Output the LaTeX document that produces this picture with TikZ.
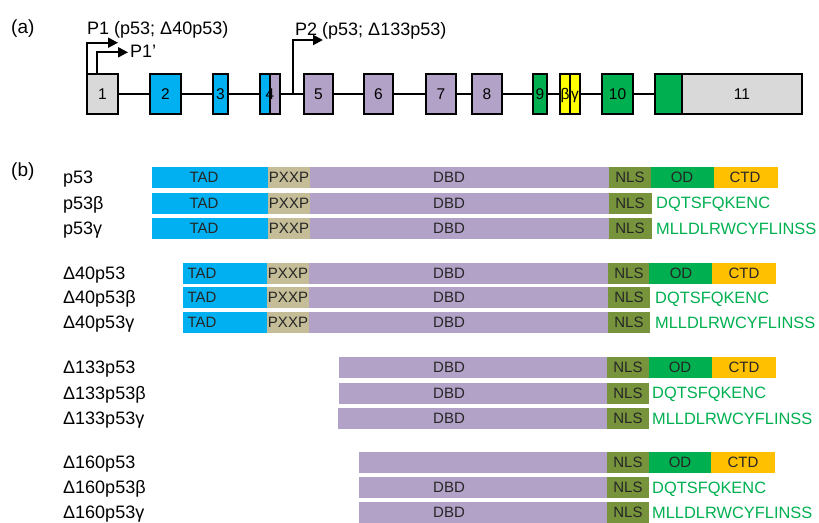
\documentclass[tikz,border=0pt]{standalone}
\usepackage{fontspec}
\setmainfont{Liberation Sans}
\usetikzlibrary{arrows.meta,calc}
\definecolor{exgray}{HTML}{D9D9D9}
\definecolor{tadblue}{HTML}{00B0F0}
\definecolor{dbdpurple}{HTML}{B3A2C7}
\definecolor{odgreen}{HTML}{00B050}
\definecolor{exyellow}{HTML}{FFFF00}
\definecolor{pxxptan}{HTML}{C4BD97}
\definecolor{nlsolive}{HTML}{77933C}
\definecolor{ctdorange}{HTML}{FFC000}
\definecolor{seqgreen}{HTML}{00B050}
\tikzset{
  exonbox/.style={draw=black, line width=2pt, minimum height=40pt, inner sep=0pt, outer sep=0pt,
    font=\fontsize{15.5}{18}\selectfont, text height=11pt, text depth=0pt},
  exontext/.style={inner sep=0pt, font=\fontsize{15.5}{18}\selectfont, text height=11pt, text depth=0pt},
  gline/.style={line width=2pt, black},
  prom/.style={line width=2pt, black, -{Triangle[length=10pt,width=10pt]}},
  dombox/.style={draw=none, minimum height=21pt, inner sep=0pt, outer sep=0pt},
  domtext/.style={inner sep=0pt, font=\fontsize{15}{18}\selectfont, text height=10.7pt, text depth=0pt, text=black!85},
  seqtext/.style={anchor=west, inner sep=0pt, font=\fontsize{16.4}{19}\selectfont, text height=11.7pt, text depth=0pt, text=seqgreen},
  rowlabel/.style={anchor=west, inner sep=0pt, font=\fontsize{18}{21}\selectfont, text height=12.9pt, text depth=0pt},
  plabel/.style={anchor=base west, inner sep=0pt, font=\fontsize{18}{21}\selectfont},
  panel/.style={anchor=base west, inner sep=0pt, font=\fontsize{19}{22}\selectfont}
}
% exon: name, outer x1, outer x2, colour, text
\newcommand\exonnode[5]{%
  \node[exonbox, fill=#4, minimum width={#3pt-#2pt-2pt}] (#1) at ({(#2+#3)/2},93.5) {#5};}
% domain: name, x1, x2, ytop, colour, text x, text
\newcommand\domnode[7]{%
  \node[dombox, fill=#5, minimum width={#3pt-#2pt}, anchor=north west] (#1) at (#2,#4) {};
  \node[domtext] (#1t) at (#6,{#4+10.5}) {#7};}
\begin{document}
\begin{tikzpicture}[x=1pt,y=-1pt]
\useasboundingbox (0,0) rectangle (819,522);
% ---------- (a) ----------
\node[panel] (pa) at (11,33.5) {(a)};
\exonnode{e1}{86}{119}{exgray}{1}
\exonnode{e2}{149}{182}{tadblue}{2}
\exonnode{e3}{212}{229}{tadblue}{3}
\exonnode{e4a}{259}{271}{tadblue}{}
\exonnode{e4b}{269}{281}{dbdpurple}{}
\node[exontext] (e4t) at (270,93.5) {4};
\exonnode{e5}{303}{334}{dbdpurple}{5}
\exonnode{e6}{363}{394}{dbdpurple}{6}
\exonnode{e7}{425}{457}{dbdpurple}{7}
\exonnode{e8}{471}{503}{dbdpurple}{8}
\exonnode{e9}{532}{548}{odgreen}{9}
\exonnode{eb}{559}{571}{exyellow}{β}
\exonnode{eg}{569}{581}{exyellow}{γ}
\exonnode{e10}{601}{634}{odgreen}{10}
\exonnode{e11a}{654}{683}{odgreen}{}
\exonnode{e11b}{681}{803}{exgray}{11}
\draw[gline] (e1.east) -- (e2.west) (e2.east) -- (e3.west) (e3.east) -- (e4a.west)
  (e4b.east) -- (e5.west) (e5.east) -- (e6.west) (e6.east) -- (e7.west)
  (e7.east) -- (e8.west) (e8.east) -- (e9.west) (e9.east) -- (eb.west)
  (eg.east) -- (e10.west) (e10.east) -- (e11a.west);
\coordinate (p1end) at (118,42.7);
\coordinate (p1pstart) at (97,73.5);
\coordinate (p1pend) at (128,52.3);
\coordinate (p2start) at (293,93.5);
\coordinate (p2end) at (323,40);
\draw[prom] (e1.north west) |- (p1end);
\draw[prom] (p1pstart) |- (p1pend);
\draw[prom] (p2start) |- (p2end);
\node[plabel] (lp1) at (87,34) {P1 (p53; Δ40p53)};
\node[plabel] (lp1p) at (130,57.5) {P1'};
\node[plabel] (lp2) at (295,35.5) {P2 (p53; Δ133p53)};
% ---------- (b) ----------
\node[panel] (pb) at (11,176) {(b)};
% group 1: p53
\node[rowlabel] (l11) at (63,177.5) {p53};
\node[rowlabel] (l12) at (63,203) {p53β};
\node[rowlabel] (l13) at (63,228.5) {p53γ};
\domnode{a1}{152}{268}{167}{tadblue}{204}{TAD}
\domnode{a2}{268}{310}{167}{pxxptan}{289}{PXXP}
\domnode{a3}{310}{609}{167}{dbdpurple}{449}{DBD}
\domnode{a4}{609}{651}{167}{nlsolive}{630}{NLS}
\domnode{a5}{651}{714}{167}{odgreen}{682}{OD}
\domnode{a6}{714}{778}{167}{ctdorange}{745}{CTD}
\domnode{b1}{152}{268}{192.5}{tadblue}{204}{TAD}
\domnode{b2}{268}{310}{192.5}{pxxptan}{289}{PXXP}
\domnode{b3}{310}{609}{192.5}{dbdpurple}{449}{DBD}
\domnode{b4}{609}{652}{192.5}{nlsolive}{630}{NLS}
\node[seqtext] (bs) at (656,203) {DQTSFQKENC};
\domnode{c1}{152}{268}{218}{tadblue}{204}{TAD}
\domnode{c2}{268}{310}{218}{pxxptan}{289}{PXXP}
\domnode{c3}{310}{609}{218}{dbdpurple}{449}{DBD}
\domnode{c4}{609}{652}{218}{nlsolive}{630}{NLS}
\node[seqtext] (cs) at (656,228.5) {MLLDLRWCYFLINSS};
% group 2: Delta40
\node[rowlabel] (l21) at (63,273) {Δ40p53};
\node[rowlabel] (l22) at (63,297.5) {Δ40p53β};
\node[rowlabel] (l23) at (63,322.5) {Δ40p53γ};
\domnode{d1}{183}{267}{262.5}{tadblue}{202}{TAD}
\domnode{d2}{267}{309}{262.5}{pxxptan}{288}{PXXP}
\domnode{d3}{309}{608}{262.5}{dbdpurple}{449}{DBD}
\domnode{d4}{608}{649}{262.5}{nlsolive}{629}{NLS}
\domnode{d5}{649}{712}{262.5}{odgreen}{681}{OD}
\domnode{d6}{712}{776}{262.5}{ctdorange}{744}{CTD}
\domnode{f1}{183}{267}{287}{tadblue}{202}{TAD}
\domnode{f2}{267}{309}{287}{pxxptan}{288}{PXXP}
\domnode{f3}{309}{608}{287}{dbdpurple}{449}{DBD}
\domnode{f4}{608}{650}{287}{nlsolive}{629}{NLS}
\node[seqtext] (fs) at (655,297.5) {DQTSFQKENC};
\domnode{g1}{183}{267}{312}{tadblue}{202}{TAD}
\domnode{g2}{267}{309}{312}{pxxptan}{288}{PXXP}
\domnode{g3}{309}{608}{312}{dbdpurple}{449}{DBD}
\domnode{g4}{608}{650}{312}{nlsolive}{629}{NLS}
\node[seqtext] (gs) at (655,322.5) {MLLDLRWCYFLINSS};
% group 3: Delta133
\node[rowlabel] (l31) at (63,367.5) {Δ133p53};
\node[rowlabel] (l32) at (63,393) {Δ133p53β};
\node[rowlabel] (l33) at (63,418.5) {Δ133p53γ};
\domnode{h3}{339}{607}{357}{dbdpurple}{449}{DBD}
\domnode{h4}{607}{649}{357}{nlsolive}{628}{NLS}
\domnode{h5}{649}{712}{357}{odgreen}{680}{OD}
\domnode{h6}{712}{776}{357}{ctdorange}{744}{CTD}
\domnode{i3}{339}{607}{382.5}{dbdpurple}{449}{DBD}
\domnode{i4}{607}{649}{382.5}{nlsolive}{628}{NLS}
\node[seqtext] (is) at (652,393) {DQTSFQKENC};
\domnode{j3}{338}{607}{408}{dbdpurple}{449}{DBD}
\domnode{j4}{607}{649}{408}{nlsolive}{628}{NLS}
\node[seqtext] (js) at (652,418.5) {MLLDLRWCYFLINSS};
% group 4: Delta160
\node[rowlabel] (l41) at (63,462.5) {Δ160p53};
\node[rowlabel] (l42) at (63,487.5) {Δ160p53β};
\node[rowlabel] (l43) at (63,512.5) {Δ160p53γ};
\domnode{k3}{359}{607}{452}{dbdpurple}{449}{}
\domnode{k4}{607}{649}{452}{nlsolive}{628}{NLS}
\domnode{k5}{649}{711}{452}{odgreen}{680}{OD}
\domnode{k6}{711}{775}{452}{ctdorange}{743}{CTD}
\domnode{m3}{359}{607}{477}{dbdpurple}{449}{DBD}
\domnode{m4}{607}{649}{477}{nlsolive}{628}{NLS}
\node[seqtext] (ms) at (652,487.5) {DQTSFQKENC};
\domnode{n3}{359}{607}{502}{dbdpurple}{449}{DBD}
\domnode{n4}{607}{649}{502}{nlsolive}{628}{NLS}
\node[seqtext] (ns) at (652,512.5) {MLLDLRWCYFLINSS};
\end{tikzpicture}
\end{document}
